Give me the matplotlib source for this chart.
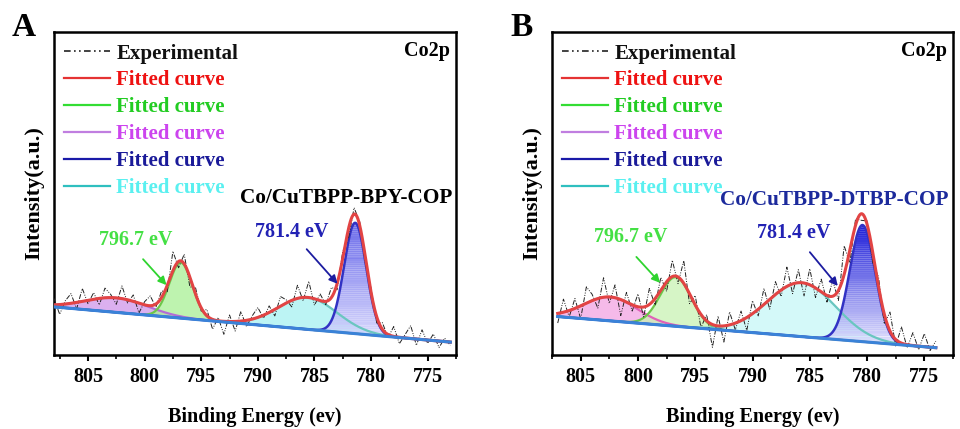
import numpy as np
import matplotlib
matplotlib.use("Agg")
import matplotlib.pyplot as plt
from matplotlib.lines import Line2D
from matplotlib.colors import to_rgb

plt.rcParams['font.family'] = ['Liberation Serif', 'DejaVu Serif']
plt.rcParams['font.weight'] = 'bold'

# ---------------- data ----------------
# Panel A: Co/CuTBPP-BPY-COP
energy_a = np.arange(808.0, 772.99, -0.5)
exp_a = [0.175, 0.126, 0.168, 0.190, 0.143, 0.206, 0.159, 0.193, 0.155, 0.207,
         0.188, 0.157, 0.214, 0.161, 0.186, 0.130, 0.165, 0.183, 0.148, 0.198,
         0.196, 0.321, 0.270, 0.312, 0.211, 0.208, 0.136, 0.141, 0.080, 0.116,
         0.064, 0.124, 0.074, 0.135, 0.088, 0.121, 0.147, 0.114, 0.152, 0.121,
         0.181, 0.171, 0.149, 0.216, 0.168, 0.228, 0.154, 0.189, 0.156, 0.209,
         0.202, 0.321, 0.360, 0.456, 0.412, 0.283, 0.206, 0.099, 0.100, 0.054,
         0.088, 0.035, 0.063, 0.091, 0.030, 0.078, 0.036, 0.065, 0.023, 0.052,
         0.030]
# baseline end points (energy, intensity)
base_a = [(808.0, 0.149), (773.0, 0.040)]
# fitted components: centre (eV), height, FWHM (eV)
peaks_a = {
    'purple': (802.5, 0.045, 6.5),
    'green':  (796.8, 0.172, 2.4),
    'cyan':   (785.6, 0.099, 6.1),
    'blue':   (781.4, 0.343, 2.3),
}

# Panel B: Co/CuTBPP-DTBP-COP
energy_b = np.arange(807.0, 773.99, -0.5)
exp_b = [0.099, 0.173, 0.118, 0.175, 0.112, 0.211, 0.188, 0.145, 0.239, 0.160,
         0.217, 0.122, 0.194, 0.136, 0.189, 0.118, 0.206, 0.154, 0.240, 0.197,
         0.293, 0.221, 0.292, 0.159, 0.184, 0.085, 0.125, 0.024, 0.120, 0.040,
         0.133, 0.078, 0.136, 0.076, 0.168, 0.121, 0.206, 0.142, 0.227, 0.181,
         0.272, 0.190, 0.264, 0.183, 0.267, 0.178, 0.235, 0.164, 0.231, 0.169,
         0.338, 0.285, 0.422, 0.417, 0.415, 0.286, 0.241, 0.096, 0.133, 0.028,
         0.087, 0.022, 0.069, 0.017, 0.066, 0.014, 0.043]
base_b = [(807.0, 0.119), (774.0, 0.0226)]
peaks_b = {
    'purple': (802.4, 0.074, 5.4),
    'green':  (796.7, 0.152, 3.2),
    'cyan':   (785.7, 0.167, 7.0),
    'blue':   (780.4, 0.361, 2.6),
}

xlims = [(808, 773), (807, 774)]
xticks = [805, 800, 795, 790, 785, 780, 775]
panel_letters = ['A', 'B']
samples = ['Co/CuTBPP-BPY-COP', 'Co/CuTBPP-DTBP-COP']
sample_colors = ['black', '#1c2a9c']
ann_labels = ['796.7 eV', '781.4 eV']
# annotation anchors (text pos, arrow start, arrow end) in data coords
ann_green = [((800.8, 0.356), (800.3, 0.303), (797.9, 0.21)),
             ((800.6, 0.365), (800.3, 0.31), (797.9, 0.217))]
ann_blue = [((787.0, 0.381), (785.85, 0.334), (782.8, 0.214)),
            ((786.4, 0.378), (785.15, 0.325), (782.4, 0.207))]
legend_labels = ['Experimental', 'Fitted curve', 'Fitted curve', 'Fitted curve',
                 'Fitted curve', 'Fitted curve']

# ---------------- styling ----------------
fill_cols = [
    {'purple': '#cf96ea', 'green': '#a9ef95', 'cyan': '#a6f1f1'},
    {'purple': '#f2a3e2', 'green': '#c9f2b4', 'cyan': '#c6f7f7'},
]
line_cols = {'purple': '#b872d6', 'green': '#6cc64a', 'cyan': '#6ac6c0', 'blue': '#3232c4'}
blue_grad = [('#5c5ce8', '#e2e2ff'), ('#0505d5', '#e8e8ff')]
purple_line = ['#b46cd6', '#e060b8']


def gauss(x, c, h, fwhm):
    s = fwhm / 2.3548
    return h * np.exp(-(x - c) ** 2 / (2 * s * s))


fig = plt.figure(figsize=(9.6, 4.29), dpi=100)
ax_pos = [[54 / 960, 74 / 429, 402 / 960, 323 / 429],
          [552 / 960, 74 / 429, 401 / 960, 323 / 429]]

for i in range(2):
    ax = fig.add_axes(ax_pos[i])
    en = [energy_a, energy_b][i]
    ex = np.array([exp_a, exp_b][i])
    (e0, b0), (e1, b1) = [base_a, base_b][i]
    pk = [peaks_a, peaks_b][i]
    x = np.linspace(xlims[i][0], xlims[i][1], 900)
    base = b0 + (x - e0) * (b1 - b0) / (e1 - e0)
    comps = {k: gauss(x, *v) for k, v in pk.items()}
    total = base + sum(comps.values())

    # fills
    for k in ['purple', 'green', 'cyan']:
        ax.fill_between(x, base, base + comps[k], color=fill_cols[i][k],
                        alpha=0.75, lw=0, zorder=1)
    # blue gradient fill (horizontal strips)
    upper = base + comps['blue']
    lo_y, hi_y = 0.02, upper.max()
    nstrip = 60
    c_top = np.array(to_rgb(blue_grad[i][0]))
    c_bot = np.array(to_rgb(blue_grad[i][1]))
    edges = np.linspace(lo_y, hi_y, nstrip + 1)
    for j in range(nstrip):
        y0s, y1s = edges[j], edges[j + 1]
        lo = np.maximum(base, y0s)
        hi = np.minimum(upper, y1s)
        m = hi > lo
        if not m.any():
            continue
        f = (0.5 * (y0s + y1s) - lo_y) / (hi_y - lo_y)
        col = c_bot + (c_top - c_bot) * f
        ax.fill_between(x, lo, np.where(m, hi, lo), where=m, color=col,
                        lw=0, zorder=2, alpha=0.9)

    # component lines
    ax.plot(x, base + comps['purple'], color=purple_line[i], lw=1.6, zorder=3)
    ax.plot(x, base + comps['green'], color=line_cols['green'], lw=1.6, zorder=3)
    ax.plot(x, base + comps['cyan'], color=line_cols['cyan'], lw=1.6, zorder=3)
    ax.plot(x, base + comps['blue'], color=line_cols['blue'], lw=1.8, zorder=3)
    # experimental
    ax.plot(en, ex, color='#222222', lw=0.7, ls=(0, (5, 1.5, 1, 1.5, 1, 1.5)), zorder=4)
    # total fit
    ax.plot(x, total, color='#e24444', lw=2.2, zorder=5)
    # baseline
    ax.plot(x, base, color='#3a82d8', lw=2.2, zorder=6)

    ax.set_xlim(*xlims[i])
    ax.set_ylim(0, 1)
    ax.set_yticks([])
    ax.set_xticks(xticks)
    ax.set_xticks(np.arange(775 - 2.5, 810, 5), minor=True)
    ax.tick_params(axis='x', which='major', direction='out', length=4, width=1.5,
                   labelsize=14.5, pad=5)
    ax.tick_params(axis='x', which='minor', direction='out', length=3, width=1.2)
    for sp in ax.spines.values():
        sp.set_linewidth(1.8)
    ax.set_xlabel('Binding Energy (ev)', fontsize=14.5, fontweight='bold', labelpad=14)
    ax.set_ylabel('Intensity(a.u.)', fontsize=16, fontweight='bold', labelpad=7)

    # texts
    ax.text(0.985, 0.94, 'Co2p', transform=ax.transAxes, ha='right', va='center',
            fontsize=14.5, fontweight='bold', color='black')
    ax.text(0.99, [0.487, 0.48][i], samples[i], transform=ax.transAxes, ha='right',
            va='center', fontsize=15.3, fontweight='bold', color=sample_colors[i])

    (tg, sg, eg) = ann_green[i]
    ax.annotate('', xy=eg, xytext=sg,
                arrowprops=dict(arrowstyle='-|>', color='#2fd42f', lw=1.3,
                                mutation_scale=12), zorder=7)
    ax.text(tg[0], tg[1], ann_labels[0], ha='center', va='center', fontsize=14.5,
            fontweight='bold', color='#44e044')
    (tb, sb, eb) = ann_blue[i]
    ax.annotate('', xy=eb, xytext=sb,
                arrowprops=dict(arrowstyle='-|>', color='#1c1ca0', lw=1.3,
                                mutation_scale=12), zorder=7)
    ax.text(tb[0], tb[1], ann_labels[1], ha='center', va='center', fontsize=14.5,
            fontweight='bold', color='#2222b4')

    # legend
    handles = [Line2D([], [], color='#222222', lw=1.2, ls=(0, (4, 2, 1, 2, 1, 2))),
               Line2D([], [], color='#e53333', lw=1.6),
               Line2D([], [], color='#33dd33', lw=1.6),
               Line2D([], [], color='#c07ee0', lw=1.6),
               Line2D([], [], color='#1a1aa8', lw=1.6),
               Line2D([], [], color='#2fbfbf', lw=1.6)]
    text_cols = ['#111111', '#ee1111', '#22cc22', '#cc44ee', '#1a1a99', '#5af0f0']
    leg = ax.legend(handles, legend_labels, loc='upper left', frameon=False,
                    fontsize=15, handlelength=2.2, handletextpad=0.3,
                    labelspacing=0.33, borderaxespad=0.0,
                    bbox_to_anchor=(0.005, 0.99))
    for t, c in zip(leg.get_texts(), text_cols):
        t.set_color(c)
        t.set_fontweight('bold')

    fig.text([12 / 960, 510 / 960][i], 1 - 28 / 429, panel_letters[i],
             fontsize=24, fontweight='bold', ha='left', va='center')

fig.savefig('out.png', dpi=100)
